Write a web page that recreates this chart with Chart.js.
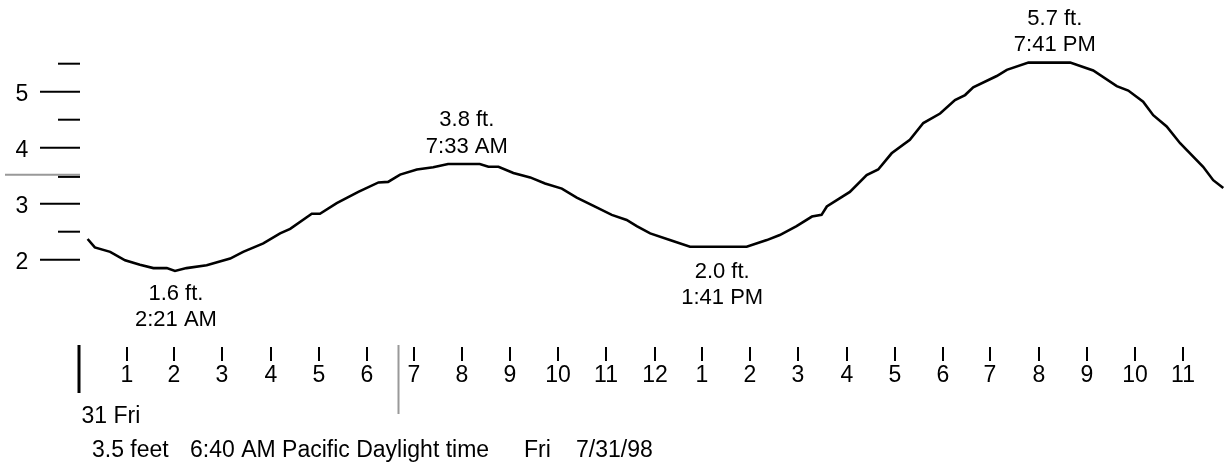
<!DOCTYPE html>
<html>
<head>
<meta charset="utf-8">
<script src="https://cdn.jsdelivr.net/npm/chart.js@4.4.1/dist/chart.umd.min.js"></script>
<style>
  html, body { margin: 0; padding: 0; background: #fff; }
  #wrap { width: 1225px; height: 465px; position: relative; }
  canvas { display: block; }
</style>
</head>
<body>
<div id="wrap"><canvas id="c" width="1225" height="465"></canvas></div>
<script>
// ---- data ----
const tideHours = [0.19,0.34,0.66,0.97,1.28,1.56,1.84,2.01,2.25,2.67,3.16,3.43,3.85,4.20,4.41,4.86,5.03,5.38,5.83,6.25,6.45,6.70,7.05,7.39,7.70,8.36,8.54,8.75,9.06,9.41,9.72,10.07,10.38,10.73,11.11,11.42,11.63,11.91,12.32,12.74,13.92,14.34,14.61,14.96,15.28,15.48,15.59,16.07,16.42,16.66,16.94,17.32,17.60,17.95,18.26,18.47,18.64,19.13,19.34,19.79,20.66,21.14,21.63,21.87,22.18,22.39,22.67,22.95,23.43,23.64,23.85];
const tideFeet  = [2.37,2.22,2.14,1.99,1.91,1.85,1.85,1.80,1.85,1.90,2.02,2.14,2.29,2.47,2.55,2.82,2.82,3.01,3.21,3.38,3.39,3.52,3.61,3.65,3.71,3.71,3.66,3.66,3.55,3.47,3.36,3.27,3.11,2.96,2.80,2.71,2.60,2.47,2.35,2.23,2.23,2.35,2.44,2.60,2.77,2.80,2.95,3.21,3.51,3.61,3.90,4.14,4.44,4.61,4.85,4.94,5.08,5.28,5.39,5.52,5.52,5.38,5.10,5.02,4.82,4.58,4.38,4.08,3.66,3.42,3.28];

const hourTickValues = [1,2,3,4,5,6,7,8,9,10,11,12,13,14,15,16,17,18,19,20,21,22,23];
const hourTickLabels = ['1','2','3','4','5','6','7','8','9','10','11','12','1','2','3','4','5','6','7','8','9','10','11'];
const dayStartHour = 0;
const dayLabel = '31 Fri';

const yMajorTicks = [2,3,4,5];
const yMajorLabels = ['2','3','4','5'];
const yMinorTicks = [2.5,3.5,4.5,5.5];

const currentLevel = 3.5;
const currentHour = 6 + 40/60;

const extremeHours  = [2.03, 8.09, 13.41, 20.34];
const extremeLevels = [1.85, 3.71, 2.23, 5.52];
const extremeKinds  = ['low','high','low','high'];
const extremeHeightText = ['1.6 ft.','3.8 ft.','2.0 ft.','5.7 ft.'];
const extremeTimeText   = ['2:21 AM','7:33 AM','1:41 PM','7:41 PM'];

const footerParts = ['3.5 feet', '6:40 AM Pacific Daylight time', 'Fri', '7/31/98'];

// ---- drawing ----
const FONT = '23px "Liberation Sans", Arial, sans-serif';
const AFONT = '22px "Liberation Sans", Arial, sans-serif';

const tidePlugin = {
  id: 'tideDecor',
  afterDatasetsDraw(chart) {
    const ctx = chart.ctx;
    const xs = chart.scales.x, ys = chart.scales.y;
    ctx.save();
    ctx.fillStyle = '#000';
    ctx.strokeStyle = '#000';
    ctx.lineCap = 'butt';

    // current level gray line
    const yc = ys.getPixelForValue(currentLevel);
    ctx.strokeStyle = '#999';
    ctx.lineWidth = 2;
    ctx.beginPath(); ctx.moveTo(5, yc - 1); ctx.lineTo(80, yc - 1); ctx.stroke();

    // y axis ticks
    ctx.strokeStyle = '#000';
    ctx.lineWidth = 2;
    yMajorTicks.forEach(v => {
      const y = ys.getPixelForValue(v);
      ctx.beginPath(); ctx.moveTo(40, y); ctx.lineTo(80, y); ctx.stroke();
    });
    yMinorTicks.forEach(v => {
      const y = ys.getPixelForValue(v) + (v === currentLevel ? 1.2 : 0);
      ctx.beginPath(); ctx.moveTo(58, y); ctx.lineTo(80, y); ctx.stroke();
    });
    ctx.font = FONT;
    ctx.textAlign = 'center';
    ctx.textBaseline = 'alphabetic';
    yMajorTicks.forEach((v, i) => {
      const y = ys.getPixelForValue(v);
      ctx.fillText(yMajorLabels[i], 22, y + 9.5);
    });

    // x axis hour ticks
    hourTickValues.forEach((h, i) => {
      const x = Math.round(xs.getPixelForValue(h));
      ctx.lineWidth = 2;
      ctx.beginPath(); ctx.moveTo(x, 347); ctx.lineTo(x, 361); ctx.stroke();
      ctx.fillText(hourTickLabels[i], x, 382);
    });
    // day start tick
    const x0 = xs.getPixelForValue(dayStartHour);
    ctx.lineWidth = 3;
    ctx.beginPath(); ctx.moveTo(x0 + 0.5, 345); ctx.lineTo(x0 + 0.5, 393); ctx.stroke();
    ctx.textAlign = 'left';
    ctx.fillText(dayLabel, x0 + 3, 422.5);

    // current time gray vertical
    const xc = xs.getPixelForValue(currentHour);
    ctx.strokeStyle = '#999';
    ctx.lineWidth = 2;
    ctx.beginPath(); ctx.moveTo(xc, 345); ctx.lineTo(xc, 414); ctx.stroke();

    // footer
    ctx.fillStyle = '#000';
    ctx.textAlign = 'left';
    ctx.fillText(footerParts[0], 92, 456.5);
    ctx.fillText(footerParts[1], 190, 456.5);
    ctx.fillText(footerParts[2], 524, 456.5);
    ctx.fillText(footerParts[3], 576, 456.5);

    // extremes labels
    ctx.font = AFONT;
    ctx.textAlign = 'center';
    extremeHours.forEach((h, i) => {
      const x = xs.getPixelForValue(h);
      const y = ys.getPixelForValue(extremeLevels[i]);
      if (extremeKinds[i] === 'low') {
        ctx.fillText(extremeHeightText[i], x, y + 31.5);
        ctx.fillText(extremeTimeText[i], x, y + 57.5);
      } else {
        ctx.fillText(extremeHeightText[i], x, y - 37.5);
        ctx.fillText(extremeTimeText[i], x, y - 11.3);
      }
    });
    ctx.restore();
  }
};

const pxPerHour = 48.0, x0px = 78.5;
const pxPerFoot = 56.0, y2px = 259.7;

new Chart(document.getElementById('c'), {
  type: 'line',
  data: {
    datasets: [{
      data: tideHours.map((h, i) => ({ x: h, y: tideFeet[i] })),
      borderColor: '#000',
      borderWidth: 2.6,
      pointRadius: 0,
      tension: 0,
      fill: false
    }]
  },
  options: {
    responsive: false,
    animation: false,
    devicePixelRatio: 1,
    layout: { padding: 0 },
    plugins: { legend: { display: false }, tooltip: { enabled: false } },
    scales: {
      x: { type: 'linear', display: false, min: -x0px / pxPerHour, max: (1225 - x0px) / pxPerHour },
      y: { type: 'linear', display: false, min: 2 - (465 - y2px) / pxPerFoot, max: 2 + y2px / pxPerFoot }
    }
  },
  plugins: [tidePlugin]
});
</script>
</body>
</html>
